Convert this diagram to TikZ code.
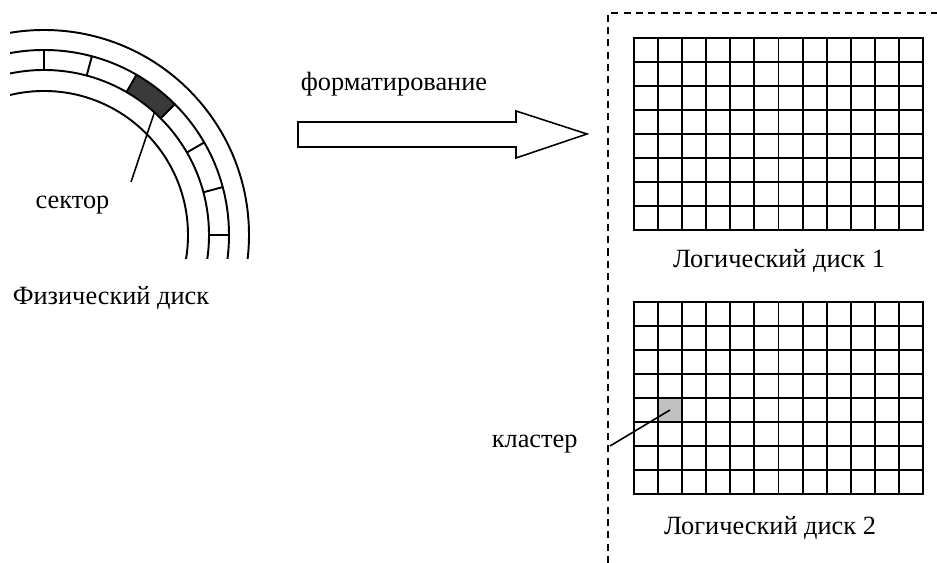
\documentclass[tikz,border=0pt]{standalone}
\usepackage{fontspec}
\setmainfont{Liberation Serif}
\usetikzlibrary{calc}
\definecolor{clusterFill}{HTML}{C0C0C0}
\definecolor{sectorFill}{HTML}{3A3A3A}
\tikzset{
  font=\fontsize{15}{18}\selectfont,
  lbl/.style     ={anchor=base, inner sep=0pt},
  trk/.style     ={line width=1.1pt},
  cell/.style    ={line width=1.1pt, line cap=rect},
  lead/.style    ={line width=0.9pt},
  part/.style    ={dash pattern=on 4pt off 3pt, line width=0.8pt},
  blockarr/.style={line width=0.9pt, fill=white, line join=miter},
}

\begin{document}
\begin{tikzpicture}[x=0.02cm, y=0.02cm]
  \useasboundingbox (0,0) rectangle (937,563);

  % physical disk
  \coordinate (c) at (44,328);
  \fill[sectorFill] ($(c)+(45:165)$) arc (45:60:165) -- ($(c)+(60:185)$) arc (60:45:185) -- cycle;
  \begin{scope}
    \clip (10,304) rectangle (300,563);
    \foreach \r in {205,185,165,144} \draw[trk] (c) circle (\r);
  \end{scope}
  \foreach \a in {0,15,...,90} \draw[trk] ($(c)+(\a:165)$) -- ($(c)+(\a:185)$);

  \node[lbl] (sek) at (72.5,354) {сектор};
  \coordinate (sekA) at (131,381);
  \coordinate (sekB) at ($(c)+(48:165)$);
  \draw[lead] (sekA) -- (sekB);
  \node[lbl] (fd) at (111,258) {Физический диск};

  % formatting
  \draw[blockarr] (298,416) -- (516,416) -- (516,405) -- (587,429) -- (516,452) -- (516,441) -- (298,441) -- cycle;
  \node[lbl] (fmt) at (394,472) {форматирование};

  % logical disks
  \draw[part] (608,0) -- (608,550) -- (937,550);
  \fill[clusterFill] (658.1,141) rectangle (682.2,165);
  \coordinate (kl) at (670,153);
  \foreach \gy in {525,261} {
    \foreach \i in {0,...,12} \draw[cell] ({634+\i*289/12},\gy) -- ++(0,-192);
    \foreach \j in {0,...,8} \draw[cell] (634,\gy-\j*24) -- ++(289,0);
  }
  \node[lbl] (ld1) at (779,295) {Логический диск 1};
  \node[lbl] (ld2) at (770,28.7) {Логический диск 2};

  \node[lbl] (kls) at (534.7,115.7) {кластер};
  \coordinate (klA) at (610,117);
  \draw[lead] (klA) -- (kl);
\end{tikzpicture}
\end{document}
